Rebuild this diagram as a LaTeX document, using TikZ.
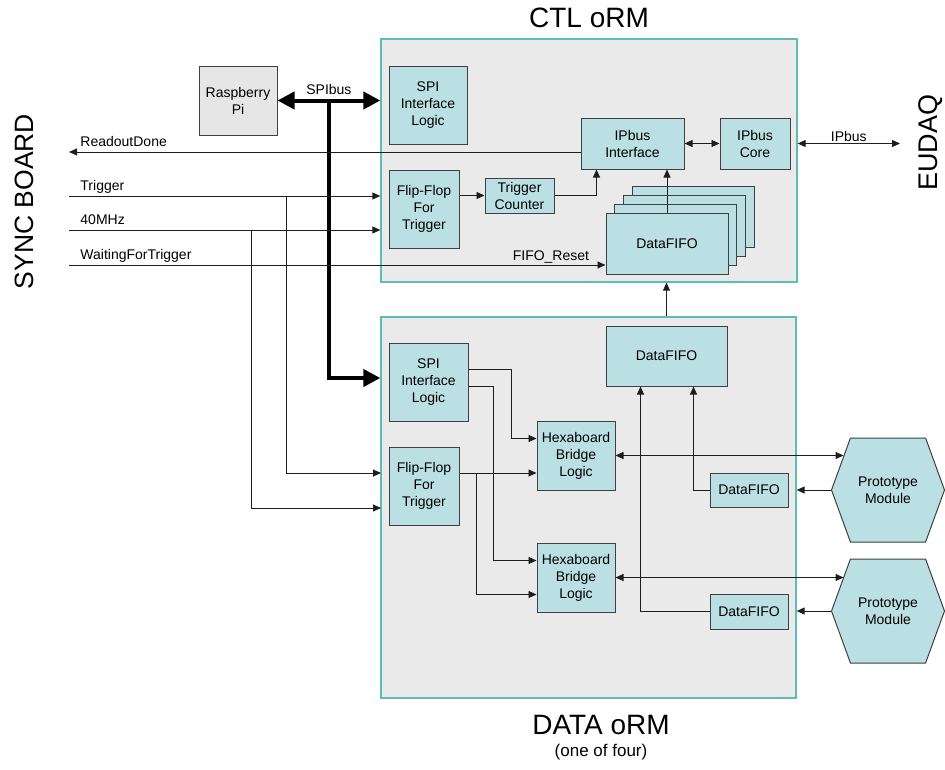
\documentclass[tikz,border=0pt]{standalone}
\usepackage{fontspec}
\setmainfont{Liberation Sans}
\usepackage{tikz}
\usetikzlibrary{shapes,shapes.symbols,arrows.meta,positioning,calc}

\definecolor{boxteal}{RGB}{187,224,227}
\definecolor{ormgray}{RGB}{234,234,234}
\definecolor{ormline}{RGB}{92,188,184}
\definecolor{pigray}{RGB}{230,230,230}
\definecolor{wire}{RGB}{30,30,30}

\begin{document}
\begin{tikzpicture}[x=1pt, y=-1pt]

\tikzstyle{orm} = [rectangle, draw=ormline, line width=1.3pt, fill=ormgray, inner sep=0pt]
\tikzstyle{block} = [rectangle, draw=black!75, line width=1pt, fill=boxteal, align=center, inner sep=0pt, font=\fontsize{14}{17}\selectfont]
\tikzstyle{module} = [signal, signal to=west and east, signal pointer angle=140, draw=black!75, line width=1pt, fill=boxteal, align=center, inner sep=0pt, minimum width=113pt, minimum height=104pt, font=\fontsize{14}{17}\selectfont]
\tikzstyle{lbl} = [font=\fontsize{14}{17}\selectfont, inner sep=0pt]
\tikzstyle{title} = [font=\fontsize{28}{32}\selectfont, inner sep=0pt]
\tikzstyle{arrow} = [->, >={Triangle[length=8pt,width=7pt]}, line width=0.9pt, draw=wire]
\tikzstyle{dblarrow} = [arrow, <->]
\tikzstyle{bus} = [line width=4pt, >={Triangle[length=17pt,width=17pt]}]

\useasboundingbox (0,0) rectangle (945,769);

% the two oRM boards
\node (ctl) [orm, minimum width=416pt, minimum height=243pt] at (589,160.5) {};
\node (data) [orm, minimum width=415pt, minimum height=381pt] at (588.5,507.5) {};
\node (ctltitle) [title] at (589,18) {CTL oRM};
\node (datatitle) [title] at (601,725) {DATA oRM};
\node (datanote) [lbl, font=\fontsize{17}{20}\selectfont] at (601,752) {(one of four)};
\node (sync) [title, font=\fontsize{26.5}{30}\selectfont, rotate=90] at (24,201.5) {SYNC BOARD};
\node (eudaq) [title, font=\fontsize{27}{30}\selectfont, rotate=90] at (931,142.5) {EUDAQ};

\node (rpi) [block, fill=pigray, minimum width=78pt, minimum height=69pt] at (238,100.5) {Raspberry\\Pi};

% CTL oRM
\node (ctlspi) [block, minimum width=78pt, minimum height=78pt] at (428,105) {SPI\\Interface\\Logic};
\node (ctlff) [block, minimum width=70pt, minimum height=78pt] at (424,209) {Flip-Flop\\For\\Trigger};
\node (trigcnt) [block, minimum width=69pt, minimum height=35pt] at (519.5,195.5) {Trigger\\Counter};
\node (ipbif) [block, minimum width=103pt, minimum height=51pt] at (632.5,143.5) {IPbus\\Interface};
\node (ipbcore) [block, minimum width=70pt, minimum height=51pt, right=35pt of ipbif] {IPbus\\Core};
\foreach \k in {3,2,1}
  \node [block, minimum width=122pt, minimum height=61pt] at (667+8.7*\k,243.5-8.7*\k) {};
\node (ctlfifo) [block, minimum width=122pt, minimum height=61pt] at (667,243.5) {DataFIFO};

% DATA oRM
\node (dspi) [block, minimum width=79pt, minimum height=78pt] at (428.5,382) {SPI\\Interface\\Logic};
\node (dff) [block, minimum width=70pt, minimum height=78pt] at (424,486) {Flip-Flop\\For\\Trigger};
\node (hbl1) [block, minimum width=78pt, minimum height=69pt] at (576,455.5) {Hexaboard\\Bridge\\Logic};
\node (hbl2) [block, minimum width=78pt, minimum height=69pt, below=52pt of hbl1] {Hexaboard\\Bridge\\Logic};
\node (dfifo) [block, minimum width=121pt, minimum height=60pt] at (666.5,356) {DataFIFO};
\node (sfifo1) [block, minimum width=78pt, minimum height=34pt] at (749,490) {DataFIFO};
\node (sfifo2) [block, minimum width=78pt, minimum height=35pt] at (749,611.5) {DataFIFO};
\node (pm1) [module] at (888,490) {Prototype\\Module};
\node (pm2) [module] at (888,611) {Prototype\\Module};

% signal ends
\coordinate (rdone) at (69,152);
\coordinate (trig) at (69,196);
\coordinate (clk) at (69,230);
\coordinate (wait) at (69,265);
\coordinate (trigtap) at (286,196);
\coordinate (clktap) at (251,230);
\coordinate (dtrig) at (381,473);
\coordinate (dclk) at (381,508);
\coordinate (eudaqin) at (900,143.5);
\coordinate (spitap) at ($(rpi.east)!0.5!(rpi.east -| ctl.west)$);

\draw [bus, <->] (rpi.east) -- node[lbl, above=4pt] (spilbl) {SPIbus} (rpi.east -| ctl.west);
\draw [bus, ->] (spitap) |- ($(dspi.west -| data.west)+(0,-4)$);

\draw [arrow] (ipbif.west |- rdone) -- (rdone) node[lbl, anchor=base west, xshift=11pt, yshift=6pt] {ReadoutDone};
\draw [arrow] (trig) node[lbl, anchor=base west, xshift=11pt, yshift=6pt] {Trigger} -- (trig -| ctl.west);
\draw [arrow] (clk) node[lbl, anchor=base west, xshift=11pt, yshift=6pt] {40MHz} -- (clk -| ctl.west);
\draw [arrow] (wait) node[lbl, anchor=base west, xshift=11pt, yshift=6pt] {WaitingForTrigger} -- (wait -| ctlfifo.west) node[lbl, anchor=base east, xshift=-16pt, yshift=5pt] {FIFO\_Reset};
\draw [arrow] (trigtap) |- (dtrig);
\draw [arrow] (clktap) |- (dclk);

\draw [arrow] (ctlff.east |- trigcnt) -- (trigcnt.west);
\draw [arrow] (trigcnt.east) -| ([xshift=16pt]ipbif.south west);
\draw [arrow] (ctlfifo.north) -- (ctlfifo.north |- ipbif.south);
\draw [dblarrow] (ipbif) -- (ipbcore);
\draw [dblarrow] (ctl.east |- ipbcore) -- node[lbl, above=1.5pt] {IPbus} (eudaqin);
\draw [arrow] (data.north -| dfifo) -- (ctl.south -| dfifo);

\draw [arrow] ([yshift=13pt]dspi.east) -- ++(43,0) |- ([yshift=17pt]hbl1.west);
\draw [arrow] ([yshift=-4pt]dspi.east) -- ++(25,0) |- ([yshift=17pt]hbl2.west);
\draw [arrow] (dff.east |- dtrig) -- (hbl1.west |- dtrig);
\draw [arrow] (dff.east |- dtrig) ++(17,0) |- ([yshift=-17pt]hbl2.west);
\draw [dblarrow] (hbl1.east) -- (hbl1.east -| pm1.142);
\draw [dblarrow] (hbl2.east) -- (hbl2.east -| pm2.142);
\draw [arrow] (pm1.west) -- (pm1.west -| data.east);
\draw [arrow] (pm2.west) -- (pm2.west -| data.east);
\draw [arrow] (sfifo1.west) -| ([xshift=-34pt]dfifo.south east);
\draw [arrow] (sfifo2.west) -| ([xshift=35pt]dfifo.south west);

\end{tikzpicture}
\end{document}
